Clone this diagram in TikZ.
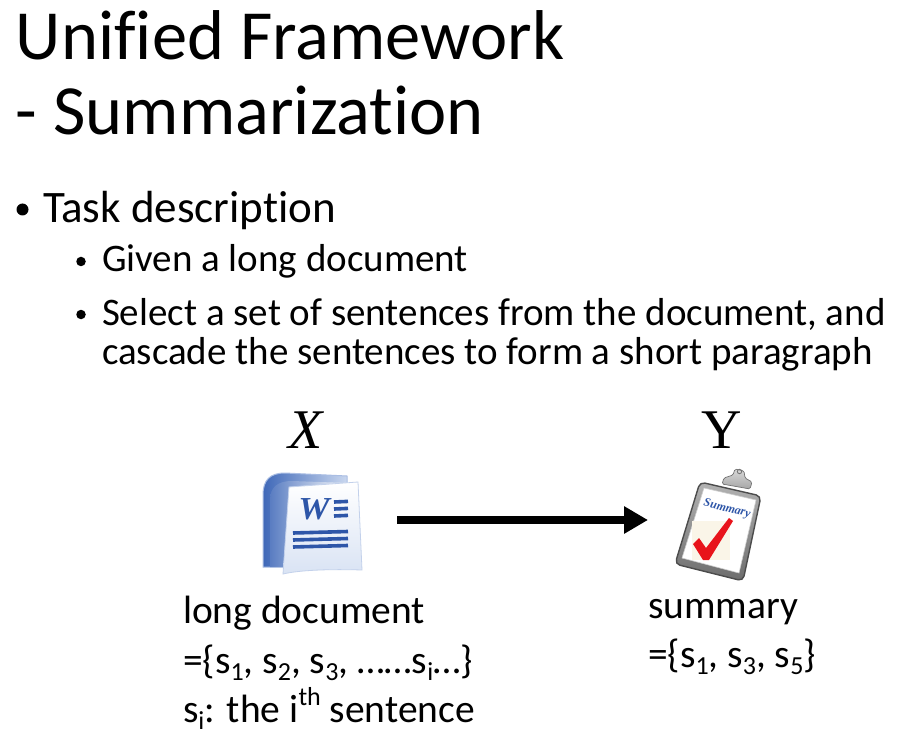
\documentclass[tikz,border=0pt]{standalone}
\usepackage{fontspec}
\setmainfont{Carlito}[RawFeature={-liga;-clig;-dlig}]
\newfontfamily\timesf{Liberation Serif}
\usetikzlibrary{arrows.meta}
\definecolor{wblue}{HTML}{2E56A8}
\definecolor{wdark}{HTML}{3F68B8}
\definecolor{wlight}{HTML}{C9D7EF}
\definecolor{wedge}{HTML}{A9BDE3}
\definecolor{beige}{HTML}{FAF5E8}
\definecolor{chkred}{HTML}{E8141B}
\newcommand{\sbs}[1]{\raisebox{-0.2em}{\fontsize{26}{26}\selectfont #1}}
\newcommand{\sps}[1]{\raisebox{0.42em}{\fontsize{26}{26}\selectfont #1}}
\tikzset{
  txt/.style={anchor=base west, inner sep=0pt, outer sep=0pt},
  ttl/.style={txt, font=\fontsize{70.5}{71}\selectfont},
  lvone/.style={txt, font=\fontsize{45}{45}\selectfont},
  lvtwo/.style={txt, font=\fontsize{39}{39}\selectfont},
  body/.style={txt, font=\fontsize{39.5}{39.5}\selectfont},
  bul/.style={circle, fill=black, inner sep=0pt},
  varlbl/.style={anchor=base, inner sep=0pt, font=\timesf\fontsize{56}{56}\selectfont},
}
\begin{document}
\begin{tikzpicture}[x=1pt,y=-1pt]
\fill[white] (0,0) rectangle (900,746);
\useasboundingbox (0,0) rectangle (900,746);

% title
\node[ttl] (t1) at (16,60) {Unified Framework};
\node[ttl] (t2) at (16,135) {- Summarization};

% bullets
\node[bul, minimum size=12pt] (b1) at (22.5,209.5) {};
\node[lvone] (b1t) at (43,223) {Task description};
\node[bul, minimum size=9.5pt] (b2) at (81,261.5) {};
\node[lvtwo] (b2t) at (102,272) {Given a long document};
\node[bul, minimum size=9.5pt] (b3) at (81,314.5) {};
\node[lvtwo] (b3t) at (102,325) {Select a set of sentences from the document, and};
\node[lvtwo] (b3u) at (102,364) {cascade the sentences to form a short paragraph};

% variable labels
\node[varlbl] (xl) at (306,448) {\itshape X};
\node[varlbl] (yl) at (722,448) {Y};

% ---------- Word document icon ----------
\shade[left color=wdark, right color=wlight, draw=wedge, line width=1pt]
  (263,567) -- (263,495) .. controls (263,480) and (270,473) .. (285,473)
  -- (347,476) -- (347,567) -- cycle;
\shade[left color=wdark!85!white, right color=white, opacity=0.9]
  (270,567) -- (270,500) .. controls (270,487) and (278,481) .. (292,481)
  -- (347,483) -- (347,567) -- cycle;
\shade[top color=white, bottom color=wlight!70!white, draw=wedge!70!white, line width=0.8pt]
  (289,487) -- (358,482) -- (362,570) .. controls (330,569) and (300,570) .. (283,574) -- cycle;
\node[inner sep=0pt, text=wblue, font=\timesf\bfseries\itshape\fontsize{32}{32}\selectfont, xscale=1.1]
  (wletter) at (314,509) {W};
\foreach \yy in {502,509,516}
  \draw[wblue, line width=3.6pt] (334,\yy) -- (348,\yy-0.6);
\foreach \yy in {533,540,547}
  \draw[wblue, line width=3.6pt] (293,\yy) -- (348,\yy-1.5);
\coordinate (docR) at (397,520);

% ---------- clipboard icon ----------
\shade[top color=gray!60, bottom color=gray!85!black, draw=black!70, line width=1.4pt, rounded corners=5pt]
  (700,482) -- (761,496) -- (743,581) -- (675,564) -- cycle;
\fill[white, draw=gray!40, line width=0.6pt]
  (704,488) -- (756,500) -- (739,573) -- (682,558) -- cycle;
% clip
\shade[top color=gray!30, bottom color=gray!70, draw=black!55, line width=0.7pt, rounded corners=1.5pt]
  (722,484) -- (724,478) -- (733,475) -- (735,469) -- (744,471) -- (745,478) -- (752,482) -- (750,489) -- cycle;
\draw[black!55, line width=0.8pt] (739.5,471.5) circle (2.2pt);
\node[inner sep=0pt, text=wblue, rotate=-14, font=\timesf\bfseries\itshape\fontsize{12}{12}\selectfont]
  (summ) at (727,509) {Summary};
\fill[beige] (692,521) rectangle (730,560);
\fill[chkred] (693,544) -- (699,538) -- (706,548) -- (729,518) -- (733,521)
  -- (709,560) -- (703,560) -- cycle;
\coordinate (sumL) at (648,520);

% arrow
\draw[line width=8pt, -{Triangle[length=24pt, width=26pt]}] (docR) -- (sumL);

% bottom texts
\node[body] (ld) at (183,623) {long document};
\node[body] (ldset) at (183,673) {=\{s\sbs{1}, s\sbs{2}, s\sbs{3}, ……s\sbs{i}…\}};
\node[body] (si) at (183,722) {s\sbs{i}: the i\sps{th} sentence};
\node[body] (sm) at (648,618) {summary};
\node[body] (smset) at (648,667) {=\{s\sbs{1}, s\sbs{3}, s\sbs{5}\}};
\end{tikzpicture}
\end{document}
